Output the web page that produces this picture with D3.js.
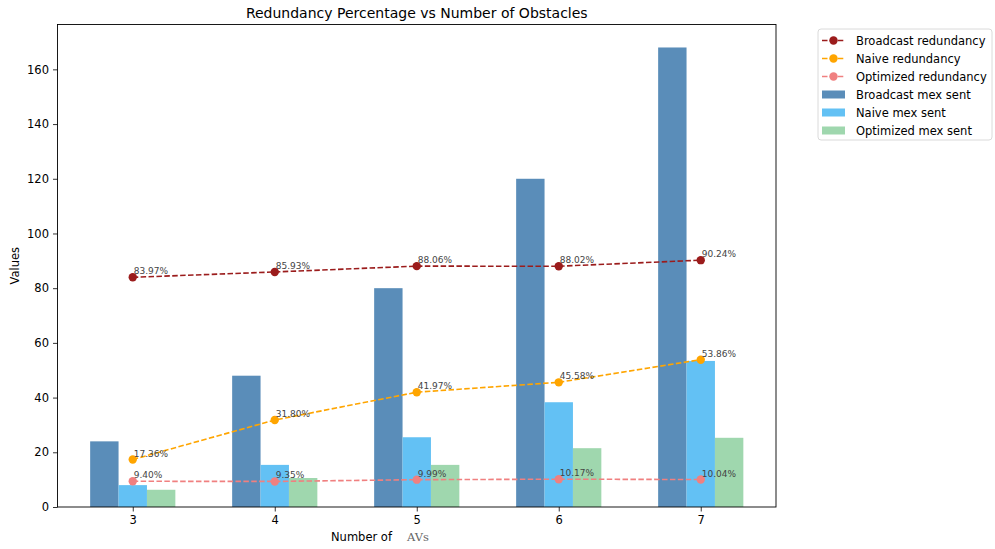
<!DOCTYPE html>
<html>
<head>
<meta charset="utf-8">
<script src="https://cdn.jsdelivr.net/npm/d3@7"></script>
<style>
  html, body { margin: 0; padding: 0; background: #fff; }
  svg { display: block; font-family: "DejaVu Sans", sans-serif; }
</style>
</head>
<body>
<svg id="chart" width="995" height="549"></svg>
<script>
// Number of obstacles on the x axis
const obstacles = [3, 4, 5, 6, 7];

// Messages sent per strategy
const broadcastSent = [24, 48, 80, 120, 168];
const naiveSent = [8.0, 15.4, 25.5, 38.3, 53.4];
const optimizedSent = [6.3, 10.6, 15.4, 21.5, 25.3];

// Redundancy percentage per strategy
const broadcastRedundancy = [83.97, 85.93, 88.06, 88.02, 90.24];
const naiveRedundancy = [17.36, 31.80, 41.97, 45.58, 53.86];
const optimizedRedundancy = [9.40, 9.35, 9.99, 10.17, 10.04];

const yTicks = [0, 20, 40, 60, 80, 100, 120, 140, 160];

const svg = d3.select("#chart");
const plot = { left: 57.5, right: 776, top: 24.5, bottom: 507 };

const x = d3.scaleLinear().domain([2.47, 7.53]).range([plot.left, plot.right]);
const y = d3.scaleLinear().domain([0, 176.4]).range([plot.bottom, plot.top]);
const barW = x(0.2) - x(0);

const barSeries = [
  { name: "Broadcast mex sent", values: broadcastSent, color: "#5a8db9", offset: -0.2 },
  { name: "Naive mex sent", values: naiveSent, color: "#63c1f4", offset: 0 },
  { name: "Optimized mex sent", values: optimizedSent, color: "#9fd7ae", offset: 0.2 }
];
const lineSeries = [
  { name: "Broadcast redundancy", values: broadcastRedundancy, color: "#9b1c1c" },
  { name: "Naive redundancy", values: naiveRedundancy, color: "#ffa500" },
  { name: "Optimized redundancy", values: optimizedRedundancy, color: "#f08080" }
];

// Bars
barSeries.forEach(s => {
  svg.append("g").selectAll("rect")
    .data(obstacles.map((o, i) => ({ o, v: s.values[i] })))
    .join("rect")
    .attr("x", d => x(d.o + s.offset) - barW / 2)
    .attr("y", d => y(d.v))
    .attr("width", barW)
    .attr("height", d => y(0) - y(d.v))
    .attr("fill", s.color);
});

// Dashed redundancy lines with markers and value labels
const line = d3.line().x(d => x(d.o)).y(d => y(d.v));
lineSeries.forEach(s => {
  const pts = obstacles.map((o, i) => ({ o, v: s.values[i] }));
  svg.append("path")
    .datum(pts)
    .attr("d", line)
    .attr("fill", "none")
    .attr("stroke", s.color)
    .attr("stroke-width", 1.6)
    .attr("stroke-dasharray", "5.5,2.4");
  svg.append("g").selectAll("circle")
    .data(pts)
    .join("circle")
    .attr("cx", d => x(d.o))
    .attr("cy", d => y(d.v))
    .attr("r", 4.2)
    .attr("fill", s.color);
});
lineSeries.forEach(s => {
  svg.append("g").selectAll("text")
    .data(obstacles.map((o, i) => ({ o, v: s.values[i] })))
    .join("text")
    .attr("x", d => x(d.o) + 1)
    .attr("y", d => y(d.v) - 3)
    .attr("font-size", "9px")
    .attr("fill", "#444")
    .text(d => d.v.toFixed(2) + "%");
});

// Axes
const yAxis = svg.append("g")
  .attr("transform", `translate(${plot.left},0)`)
  .call(d3.axisLeft(y).tickValues(yTicks).tickSize(4.5).tickPadding(4));
const xAxis = svg.append("g")
  .attr("transform", `translate(0,${plot.bottom})`)
  .call(d3.axisBottom(x).tickValues(obstacles).tickSize(4.5).tickPadding(4).tickFormat(d3.format("d")));
[yAxis, xAxis].forEach(a => {
  a.select(".domain").remove();
  a.selectAll("text").attr("font-size", "11.5px").attr("fill", "#000")
    .attr("font-family", "DejaVu Sans, sans-serif");
  a.selectAll("line").attr("stroke", "#000").attr("stroke-width", 0.8);
});

// Frame
svg.append("rect")
  .attr("x", plot.left).attr("y", plot.top)
  .attr("width", plot.right - plot.left).attr("height", plot.bottom - plot.top)
  .attr("fill", "none").attr("stroke", "#000").attr("stroke-width", 0.9);

// Title and axis labels
svg.append("text")
  .attr("x", (plot.left + plot.right) / 2).attr("y", 18)
  .attr("text-anchor", "middle").attr("font-size", "14px").attr("fill", "#000")
  .text("Redundancy Percentage vs Number of Obstacles");

const xl = svg.append("text").attr("x", 331).attr("y", 541)
  .attr("font-size", "11.5px").attr("fill", "#000");
xl.append("tspan").text("Number of");
xl.append("tspan").attr("x", 407).attr("font-family", "DejaVu Serif, serif")
  .attr("font-size", "11.5px").attr("fill", "#666").text("AVs");

svg.append("text")
  .attr("transform", `translate(19,${(plot.top + plot.bottom) / 2}) rotate(-90)`)
  .attr("text-anchor", "middle").attr("font-size", "11.5px").attr("fill", "#000")
  .text("Values");

// Legend
const legend = svg.append("g");
legend.append("rect")
  .attr("x", 818).attr("y", 29).attr("width", 174).attr("height", 111)
  .attr("rx", 3).attr("fill", "#fff").attr("stroke", "#d0d0d0").attr("stroke-width", 0.8);
const rowY = i => 40.5 + i * 18;
lineSeries.forEach((s, i) => {
  const g = legend.append("g");
  g.append("line").attr("x1", 822).attr("x2", 845).attr("y1", rowY(i)).attr("y2", rowY(i))
    .attr("stroke", s.color).attr("stroke-width", 1.6).attr("stroke-dasharray", "5.5,2.4");
  g.append("circle").attr("cx", 833.5).attr("cy", rowY(i)).attr("r", 4.2).attr("fill", s.color);
  g.append("text").attr("x", 856).attr("y", rowY(i) + 4).attr("font-size", "11.5px")
    .attr("fill", "#000").text(s.name);
});
barSeries.forEach((s, j) => {
  const i = j + 3;
  const g = legend.append("g");
  g.append("rect").attr("x", 822).attr("y", rowY(i) - 4).attr("width", 23).attr("height", 8)
    .attr("fill", s.color);
  g.append("text").attr("x", 856).attr("y", rowY(i) + 4).attr("font-size", "11.5px")
    .attr("fill", "#000").text(s.name);
});
</script>
</body>
</html>
